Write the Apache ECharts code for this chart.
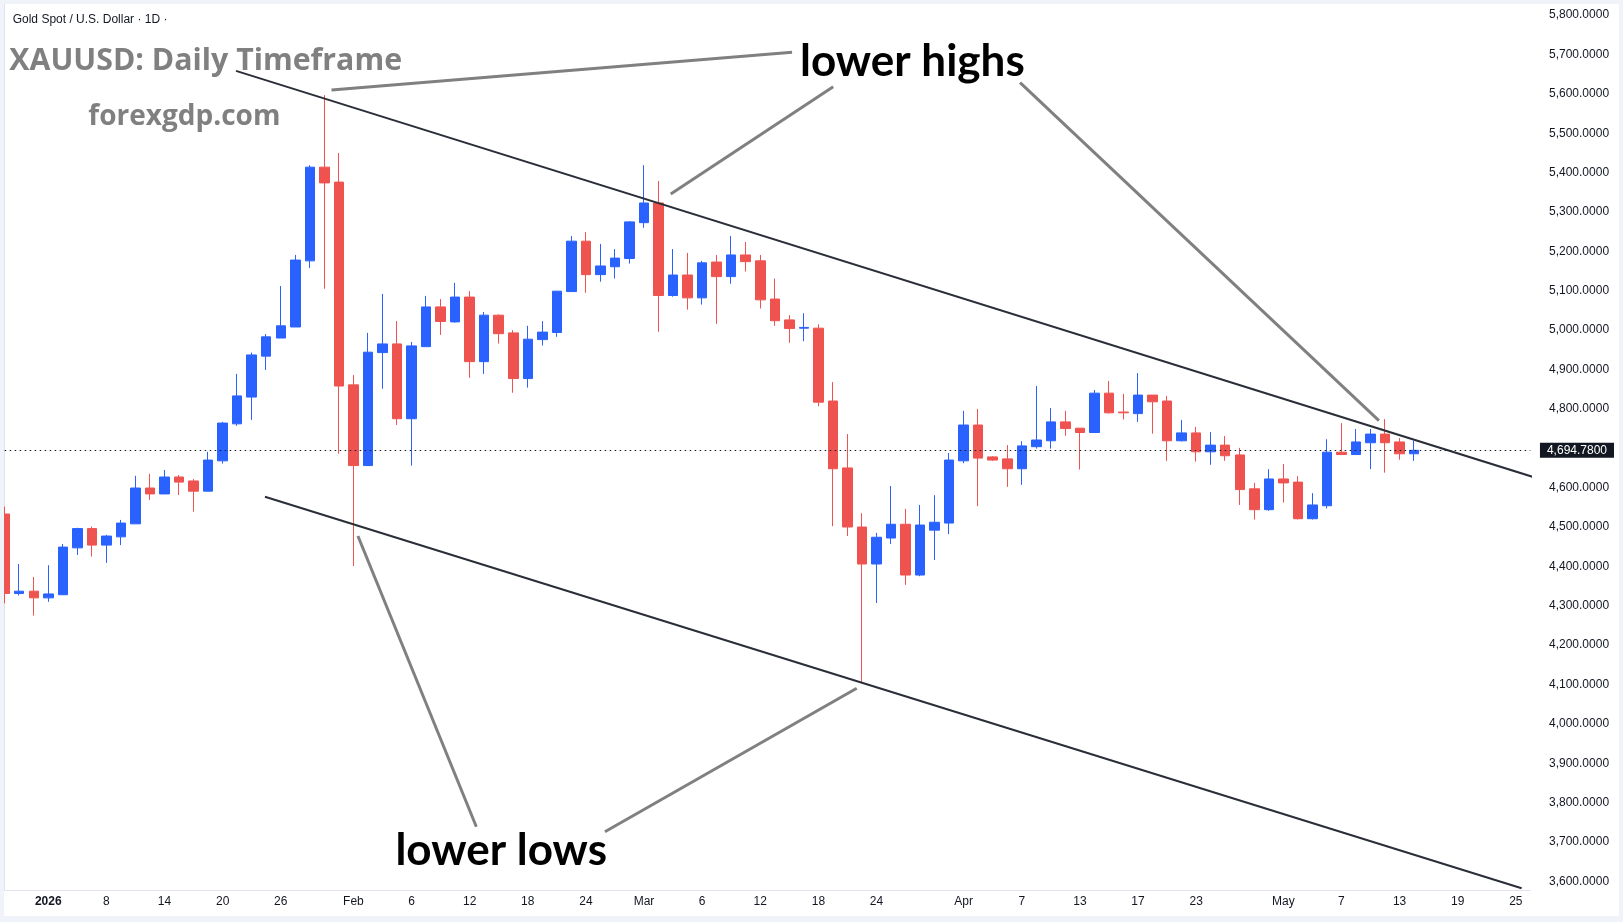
<!DOCTYPE html>
<html>
<head>
<meta charset="utf-8">
<title>XAUUSD Daily</title>
<script src="https://cdn.jsdelivr.net/npm/echarts@6/dist/echarts.min.js"></script>
<style>
html, body { margin: 0; padding: 0; background: #f0f3fa; }
#chart { position: absolute; left: 4px; top: 4px; width: 1615px; height: 912px; background: #ffffff; }
</style>
</head>
<body>
<div id="chart"></div>
<script>
// trading days (weekdays), last ones are empty future slots
var dates = [
    '2025-12-29','2025-12-30','2025-12-31',
    '2026-01-02','2026-01-05','2026-01-06','2026-01-07','2026-01-08','2026-01-09',
    '2026-01-12','2026-01-13','2026-01-14','2026-01-15','2026-01-16',
    '2026-01-19','2026-01-20','2026-01-21','2026-01-22','2026-01-23',
    '2026-01-26','2026-01-27','2026-01-28','2026-01-29','2026-01-30',
    '2026-02-02','2026-02-03','2026-02-04','2026-02-05','2026-02-06',
    '2026-02-09','2026-02-10','2026-02-11','2026-02-12','2026-02-13',
    '2026-02-16','2026-02-17','2026-02-18','2026-02-19','2026-02-20',
    '2026-02-23','2026-02-24','2026-02-25','2026-02-26','2026-02-27',
    '2026-03-02','2026-03-03','2026-03-04','2026-03-05','2026-03-06',
    '2026-03-09','2026-03-10','2026-03-11','2026-03-12','2026-03-13',
    '2026-03-16','2026-03-17','2026-03-18','2026-03-19','2026-03-20',
    '2026-03-23','2026-03-24','2026-03-25','2026-03-26','2026-03-27',
    '2026-03-30','2026-03-31','2026-04-01','2026-04-02','2026-04-03',
    '2026-04-06','2026-04-07','2026-04-08','2026-04-09','2026-04-10',
    '2026-04-13','2026-04-14','2026-04-15','2026-04-16','2026-04-17',
    '2026-04-20','2026-04-21','2026-04-22','2026-04-23','2026-04-24',
    '2026-04-27','2026-04-28','2026-04-29','2026-04-30','2026-05-01',
    '2026-05-04','2026-05-05','2026-05-06','2026-05-07','2026-05-08',
    '2026-05-11','2026-05-12','2026-05-13','2026-05-14','2026-05-15',
    '2026-05-18','2026-05-19','2026-05-20','2026-05-21','2026-05-22',
    '2026-05-25','2026-05-26'
];

var opens = [
    4533, 4331, 4337, 4320, 4328, 4447, 4496, 4454, 4475, 4508,
    4599, 4584, 4627, 4617, 4591, 4668, 4762, 4830, 4934, 4980,
    5008, 5176, 5414, 5376, 4861, 4656, 4943, 4965, 4775, 4958,
    5059, 5021, 5084, 4920, 5038, 4993, 4877, 4976, 4994, 5098,
    5226, 5141, 5161, 5182, 5273, 5323, 5088, 5140, 5082, 5173,
    5136, 5191, 5176, 5079, 5026, 5005, 5005, 4820, 4650, 4500,
    4406, 4472, 4507, 4378, 4492, 4510, 4668, 4759, 4678, 4673,
    4648, 4704, 4719, 4767, 4751, 4740, 4840, 4792, 4788, 4835,
    4820, 4719, 4739, 4691, 4708, 4683, 4597, 4544, 4622, 4614,
    4521, 4554, 4690, 4684, 4714, 4736, 4716, 4686
];
var closes = [
    4331, 4337, 4320, 4330, 4449, 4496, 4454, 4477, 4510, 4599,
    4584, 4627, 4614, 4591, 4670, 4764, 4833, 4937, 4983, 5011,
    5178, 5414, 5374, 4858, 4656, 4944, 4965, 4775, 4960, 5059,
    5022, 5084, 4920, 5038, 4991, 4877, 4977, 4995, 5099, 5226,
    5141, 5163, 5183, 5275, 5323, 5088, 5140, 5082, 5171, 5136,
    5191, 5174, 5077, 5024, 5004, 5007, 4817, 4648, 4500, 4406,
    4474, 4507, 4378, 4505, 4512, 4670, 4759, 4675, 4670, 4648,
    4706, 4721, 4767, 4750, 4740, 4840, 4790, 4790, 4835, 4818,
    4719, 4739, 4691, 4708, 4681, 4595, 4544, 4622, 4612, 4521,
    4556, 4690, 4684, 4716, 4736, 4714, 4686, 4694.78
];
var lows = [
    4306, 4326, 4275, 4310, 4328, 4429, 4425, 4409, 4454, 4508,
    4569, 4584, 4581, 4539, 4591, 4661, 4757, 4772, 4899, 4980,
    5008, 5158, 5105, 4686, 4401, 4656, 4851, 4759, 4656, 4958,
    4988, 5019, 4879, 4889, 4966, 4841, 4854, 4961, 4983, 5098,
    5095, 5123, 5131, 5169, 5260, 4996, 5085, 5052, 5065, 5016,
    5118, 5149, 5055, 5011, 4968, 4972, 4807, 4502, 4477, 4104,
    4307, 4457, 4353, 4375, 4416, 4482, 4662, 4553, 4668, 4602,
    4607, 4699, 4699, 4732, 4646, 4740, 4788, 4773, 4767, 4737,
    4668, 4717, 4666, 4658, 4668, 4556, 4519, 4541, 4562, 4519,
    4519, 4547, 4684, 4684, 4647, 4638, 4671, 4668
];
var highs = [
    4552, 4406, 4373, 4403, 4457, 4498, 4501, 4480, 4518, 4630,
    4635, 4645, 4632, 4622, 4691, 4767, 4889, 4943, 4990, 5112,
    5191, 5419, 5597, 5450, 4886, 4993, 5092, 5023, 4970, 5087,
    5079, 5120, 5099, 5046, 5040, 5000, 5011, 5023, 5099, 5239,
    5249, 5219, 5206, 5277, 5419, 5379, 5206, 5196, 5176, 5191,
    5239, 5224, 5191, 5131, 5038, 5043, 5015, 4868, 4736, 4535,
    4485, 4604, 4546, 4556, 4581, 4688, 4795, 4800, 4680, 4708,
    4718, 4858, 4802, 4795, 4751, 4848, 4871, 4838, 4891, 4835,
    4833, 4772, 4754, 4741, 4731, 4701, 4612, 4647, 4660, 4629,
    4586, 4723, 4764, 4749, 4749, 4774, 4726, 4719
];
var lastPrice = 4694.78;

// axis labels
var tickDates = ['2026-01-02','2026-01-08','2026-01-14','2026-01-20','2026-01-26',
    '2026-02-02','2026-02-06','2026-02-12','2026-02-18','2026-02-24',
    '2026-03-02','2026-03-06','2026-03-12','2026-03-18','2026-03-24',
    '2026-04-01','2026-04-07','2026-04-13','2026-04-17','2026-04-23',
    '2026-05-01','2026-05-07','2026-05-13','2026-05-19','2026-05-25'];
var tickTexts = ['2026','8','14','20','26','Feb','6','12','18','24',
    'Mar','6','12','18','24','Apr','7','13','17','23','May','7','13','19','25'];
var priceTicks = [3600, 3700, 3800, 3900, 4000, 4100, 4200, 4300, 4400, 4500, 4600,
    4700, 4800, 4900, 5000, 5100, 5200, 5300, 5400, 5500, 5600, 5700, 5800];

// drawn lines: [bar index, price]
var upperTrend = [[15.92, 5658.6], [105.33, 4625.5]];
var lowerTrend = [[17.91, 4577.0], [104.4, 3582.5]];
var pointers = [
    [[22.49, 5609.9], [54.19, 5705.7]],
    [[45.84, 5345.8], [57.02, 5618.3]],
    [[69.88, 5628.5], [94.58, 4770.0]],
    [[24.31, 4477.1], [32.46, 3738.7]],
    [[41.31, 3726.0], [58.64, 4090.3]]
];

var UP = '#2962ff', DOWN = '#ef5350', TEXT = '#131722', GRID = '#e0e3eb';
var FONT = '"Liberation Sans", Arial, sans-serif';

function fmtPrice(v) {
    var p = Number(v).toFixed(4).split('.');
    p[0] = p[0].replace(/\B(?=(\d{3})+(?!\d))/g, ',');
    return p.join('.');
}

var candles = [];
for (var i = 0; i < opens.length; i++) {
    candles.push([opens[i], closes[i], lows[i], highs[i]]);
}

var series = [
    {
        type: 'candlestick',
        data: candles,
        barWidth: 10,
        clip: true,
        itemStyle: {
            color: UP, color0: DOWN,
            borderColor: UP, borderColor0: DOWN,
            borderWidth: 1
        },
        markLine: {
            symbol: ['none', 'none'],
            silent: true,
            animation: false,
            data: [{ yAxis: lastPrice }],
            lineStyle: { color: TEXT, type: [1.5, 3.5], width: 1 },
            label: {
                position: 'end',
                distance: 9.6,
                formatter: fmtPrice(lastPrice),
                backgroundColor: TEXT,
                color: '#ffffff',
                padding: [2, 7, 1, 7],
                fontSize: 12,
                fontFamily: FONT
            }
        }
    },
    {
        type: 'line', xAxisIndex: 1, data: upperTrend, symbol: 'none', silent: true, z: 3, clip: false,
        lineStyle: { color: '#2a2e39', width: 2 }
    },
    {
        type: 'line', xAxisIndex: 1, data: lowerTrend, symbol: 'none', silent: true, z: 3,
        lineStyle: { color: '#2a2e39', width: 2 }
    }
];
for (var k = 0; k < pointers.length; k++) {
    series.push({
        type: 'line', xAxisIndex: 1, data: pointers[k], symbol: 'none', silent: true, z: 4,
        lineStyle: { color: '#808080', width: 3 }
    });
}

var myChart = echarts.init(document.getElementById('chart'));
var option = {
    animation: false,
    backgroundColor: '#ffffff',
    grid: { left: 0.7, right: 88.65, top: 0, bottom: 26, containLabel: false },
    xAxis: [
        {
            type: 'category',
            data: dates,
            boundaryGap: false,
            axisLine: { show: true, lineStyle: { color: GRID } },
            axisTick: { show: false },
            splitLine: { show: false },
            axisLabel: {
                margin: 6,
                color: TEXT,
                fontSize: 12,
                fontFamily: FONT,
                interval: function (index, value) { return tickDates.indexOf(value) >= 0; },
                formatter: function (value) {
                    var n = tickDates.indexOf(value);
                    if (n < 0) return '';
                    return n === 0 ? '{b|' + tickTexts[n] + '}' : tickTexts[n];
                },
                rich: { b: { fontWeight: 'bold', fontSize: 12, fontFamily: FONT, color: TEXT } }
            }
        },
        { type: 'value', min: 0, max: 105, show: false }
    ],
    yAxis: {
        type: 'value',
        position: 'right',
        offset: 4.65,
        min: 3578.0,
        max: 5828.4,
        scale: true,
        splitLine: { show: false },
        axisLine: { show: true, lineStyle: { color: GRID } },
        axisTick: { show: false },
        axisLabel: {
            customValues: priceTicks,
            margin: 14,
            color: TEXT,
            fontSize: 12,
            fontFamily: FONT,
            formatter: fmtPrice
        }
    },
    graphic: [
        { type: 'text', style: { x: 8.7, y: 16, text: 'Gold Spot / U.S. Dollar · 1D ·', fill: TEXT,
            font: '12px ' + FONT, align: 'left', verticalAlign: 'middle' } },
        { type: 'text', style: { x: 5.3, y: 57.5, text: 'XAUUSD: Daily Timeframe', fill: '#808080',
            font: 'bold 30.3px "Open Sans"', align: 'left', verticalAlign: 'middle' } },
        { type: 'text', style: { x: 84.3, y: 113, text: 'forexgdp.com', fill: '#808080',
            font: 'bold 28px "Open Sans"', align: 'left', verticalAlign: 'middle' } },
        { type: 'text', style: { x: 796, y: 58, text: 'lower highs', fill: '#000000',
            font: 'bold 44px Lato', align: 'left', verticalAlign: 'middle' } },
        { type: 'text', style: { x: 391.4, y: 847, text: 'lower lows', fill: '#000000',
            font: 'bold 44px Lato', align: 'left', verticalAlign: 'middle' } }
    ],
    series: series
};
myChart.setOption(option);
</script>
</body>
</html>
